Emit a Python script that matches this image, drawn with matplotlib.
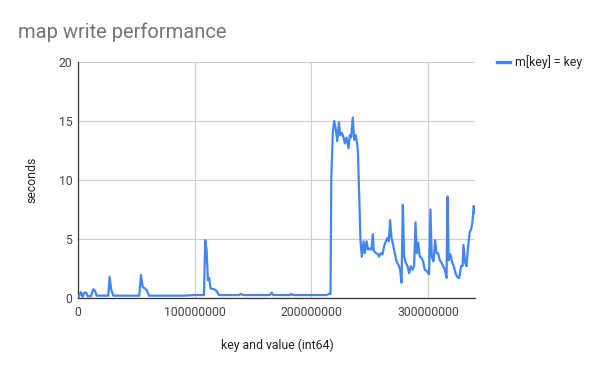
import matplotlib
matplotlib.use("Agg")
import matplotlib.pyplot as plt
from matplotlib.lines import Line2D
from matplotlib.ticker import FuncFormatter

plt.rcParams['font.family'] = ['Roboto', 'DejaVu Sans']

TITLE = "map write performance"
SERIES = "m[key] = key"
X_LABEL = "key and value (int64)"
Y_LABEL = "seconds"

# keys in millions
keys_m = [
    0.0, 0.9, 2.5, 4.0, 5.4, 7.1, 8.3, 11.1, 13.1, 14.6, 16.0, 21.0,
    26.0, 27.1, 28.5, 30.3, 35.0, 40.0, 45.0, 52.5, 54.0, 55.4, 57.4, 59.1,
    60.8, 70.0, 80.0, 90.0, 100.0, 108.0, 109.1, 110.3, 111.4, 112.5, 113.7, 116.5,
    118.8, 120.8, 130.0, 138.0, 139.7, 141.5, 150.0, 160.0, 164.5, 166.0, 167.5, 175.0,
    181.5, 183.0, 184.5, 195.0, 205.0, 213.0, 215.4, 216.5, 217.2, 218.5, 219.7, 221.0,
    222.3, 223.7, 224.8, 226.2, 227.7, 228.8, 230.2, 232.0, 233.0, 234.2, 235.6, 236.8,
    238.2, 239.3, 240.0, 241.0, 242.2, 243.4, 244.8, 245.9, 247.4, 248.7, 250.2, 251.7,
    252.8, 253.6, 255.4, 256.8, 258.2, 259.6, 261.1, 262.5, 263.9, 265.4, 266.5, 267.6,
    268.8, 270.2, 271.6, 273.1, 274.8, 276.2, 277.4, 278.5, 279.6, 281.1, 282.5, 283.9,
    285.3, 286.8, 288.2, 289.4, 290.5, 291.6, 293.1, 294.5, 295.9, 297.3, 298.8, 300.2,
    301.0, 302.2, 303.3, 304.8, 306.2, 307.4, 308.8, 310.2, 311.7, 313.1, 314.5, 316.0,
    316.8, 317.9, 319.4, 320.8, 322.2, 323.7, 325.0, 326.8, 328.5, 329.7, 330.5, 331.9,
    333.1, 334.5, 335.9, 337.0, 338.2, 339.3, 340.4,
]
seconds = [
    0.2, 0.15, 0.5, 0.1, 0.45, 0.45, 0.15, 0.15, 0.75, 0.6, 0.2, 0.2,
    0.2, 1.8, 0.7, 0.2, 0.2, 0.2, 0.2, 0.2, 1.95, 0.95, 0.8, 0.65,
    0.2, 0.2, 0.2, 0.2, 0.25, 0.25, 4.9, 4.0, 1.5, 1.7, 0.8, 0.75,
    0.6, 0.25, 0.25, 0.25, 0.35, 0.25, 0.25, 0.25, 0.25, 0.45, 0.25, 0.25,
    0.25, 0.35, 0.25, 0.25, 0.25, 0.25, 0.35, 0.35, 10.2, 14.0, 15.0, 14.3,
    13.3, 14.9, 13.8, 14.0, 13.6, 13.1, 13.6, 12.7, 13.8, 13.6, 15.3, 13.4,
    13.8, 13.1, 12.5, 8.9, 4.9, 3.5, 4.8, 3.8, 4.8, 4.1, 4.2, 4.1,
    5.4, 4.0, 3.8, 3.75, 3.5, 3.8, 3.7, 4.4, 4.8, 5.1, 4.8, 6.6,
    5.1, 4.5, 3.8, 3.1, 2.8, 2.4, 1.3, 7.9, 3.5, 3.0, 2.7, 2.1,
    2.7, 2.4, 2.7, 6.4, 3.8, 4.7, 3.5, 3.4, 3.1, 2.4, 2.3, 2.1,
    2.0, 7.5, 3.5, 3.1, 4.9, 3.8, 3.8, 3.2, 3.0, 2.7, 2.4, 1.7,
    8.6, 3.2, 3.7, 3.0, 2.7, 2.1, 1.8, 1.7, 2.7, 2.7, 4.5, 3.0,
    2.7, 4.4, 5.6, 5.8, 6.4, 7.8, 7.2,
]
keys = [k * 1e6 for k in keys_m]

x_ticks = [0, 100000000, 200000000, 300000000]
y_ticks = [0, 5, 10, 15, 20]

W, H = 600, 371
fig = plt.figure(figsize=(W / 100, H / 100), dpi=100)
ax = fig.add_axes([78 / W, 1 - 298 / H, 397 / W, 236 / H])

ax.plot(keys, seconds, color="#4285f4", linewidth=1.6, solid_joinstyle="round", zorder=3)

ax.set_xlim(0, keys[-1])
ax.set_ylim(0, 20)
ax.set_xticks(x_ticks)
ax.set_yticks(y_ticks)
ax.xaxis.set_major_formatter(FuncFormatter(lambda v, p: f"{int(v)}"))
ax.grid(True, color="#cccccc", linewidth=0.8)
ax.set_axisbelow(True)
ax.tick_params(length=0, labelsize=8.8, labelcolor="#444444")
ax.tick_params(axis="x", pad=6)
ax.tick_params(axis="y", pad=4)

for s in ["top", "right"]:
    ax.spines[s].set_visible(False)
for s in ["left", "bottom"]:
    ax.spines[s].set_color("#333333")
    ax.spines[s].set_linewidth(0.9)

fig.text(277 / W, 1 - 345 / H, X_LABEL, ha="center", va="center", fontsize=8.8, color="#222222")
fig.text(32 / W, 1 - 180 / H, Y_LABEL, ha="center", va="center", rotation=90, fontsize=8.8, color="#222222")
fig.text(18 / W, 1 - 32 / H, TITLE, ha="left", va="center", fontsize=14.5, color="#757575")

# legend drawn by hand at the right
fig.add_artist(Line2D([497 / W, 510 / W], [1 - 62 / H, 1 - 62 / H], color="#4285f4", linewidth=2.4))
fig.text(515 / W, 1 - 62 / H, SERIES, ha="left", va="center", fontsize=8.8, color="#222222")

fig.savefig("out.png", dpi=100)
